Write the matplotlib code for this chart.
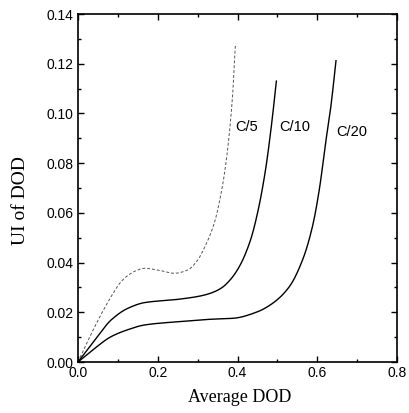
import matplotlib
matplotlib.use("Agg")
import matplotlib.pyplot as plt
from matplotlib.ticker import MultipleLocator
import numpy as np

# C/5 discharge rate
x_c5 = [0.0, 0.042, 0.083, 0.108, 0.125, 0.145, 0.167, 0.20, 0.242, 0.275, 0.30, 0.32, 0.342, 0.359, 0.372, 0.388, 0.3925, 0.395]
y_c5 = [0.0, 0.0142, 0.0263, 0.0323, 0.0348, 0.0367, 0.0377, 0.0370, 0.0357, 0.0370, 0.0410, 0.0470, 0.0560, 0.0680, 0.0813, 0.108, 0.1215, 0.128]

# C/10 discharge rate
x_c10 = [0.0, 0.042, 0.083, 0.125, 0.167, 0.25, 0.305, 0.333, 0.36, 0.383, 0.405, 0.4325, 0.451, 0.47, 0.485, 0.4975]
y_c10 = [0.0, 0.0088, 0.0169, 0.0216, 0.0239, 0.0252, 0.0265, 0.0277, 0.0298, 0.0333, 0.0385, 0.0490, 0.0605, 0.0770, 0.0950, 0.1130]

# C/20 discharge rate
x_c20 = [0.0, 0.042, 0.083, 0.125, 0.167, 0.25, 0.333, 0.39, 0.45, 0.488, 0.53, 0.563, 0.588, 0.605, 0.622, 0.634, 0.647]
y_c20 = [0.0, 0.0055, 0.0102, 0.0130, 0.0149, 0.0162, 0.0172, 0.0176, 0.0202, 0.0236, 0.0303, 0.0410, 0.0545, 0.0692, 0.0893, 0.1026, 0.1212]

labels = ["C/5", "C/10", "C/20"]
label_x = [0.4225, 0.5425, 0.6875]
label_y = [0.0945, 0.0945, 0.0925]

x_ticks = [0.0, 0.2, 0.4, 0.6, 0.8]
x_ticklabels = ["0.0", "0.2", "0.4", "0.6", "0.8"]
y_ticks = [0.00, 0.02, 0.04, 0.06, 0.08, 0.10, 0.12, 0.14]
y_ticklabels = ["0.00", "0.02", "0.04", "0.06", "0.08", "0.10", "0.12", "0.14"]


def pchip(x, y, n=400):
    x = np.asarray(x, float)
    y = np.asarray(y, float)
    h = np.diff(x)
    d = np.diff(y) / h
    m = np.zeros_like(y)
    for k in range(1, len(x) - 1):
        if d[k - 1] * d[k] <= 0:
            m[k] = 0.0
        else:
            w1 = 2 * h[k] + h[k - 1]
            w2 = h[k] + 2 * h[k - 1]
            m[k] = (w1 + w2) / (w1 / d[k - 1] + w2 / d[k])
    m[0] = d[0]
    m[-1] = d[-1]
    xs = np.linspace(x[0], x[-1], n)
    idx = np.clip(np.searchsorted(x, xs) - 1, 0, len(x) - 2)
    t = (xs - x[idx]) / h[idx]
    h00 = 2 * t**3 - 3 * t**2 + 1
    h10 = t**3 - 2 * t**2 + t
    h01 = -2 * t**3 + 3 * t**2
    h11 = t**3 - t**2
    ys = h00 * y[idx] + h10 * h[idx] * m[idx] + h01 * y[idx + 1] + h11 * h[idx] * m[idx + 1]
    return xs, ys


fig = plt.figure(figsize=(4.09, 4.13), dpi=100)
ax = fig.add_axes([78/409, 1 - 362/413, (397-78)/409, (362-14)/413])

ax.plot(*pchip(x_c5, y_c5), color="#555555", lw=0.7, linestyle=(0, (3, 2)))
ax.plot(*pchip(x_c10, y_c10), color="black", lw=1.0)
ax.plot(*pchip(x_c20, y_c20), color="black", lw=1.0)

for t, lx, ly in zip(labels, label_x, label_y):
    ax.text(lx, ly, t, ha="center", va="center", fontsize=10.5, family="Liberation Sans")

ax.set_xlim(0, 0.8)
ax.set_ylim(0, 0.14)
ax.set_xticks(x_ticks)
ax.set_xticklabels(x_ticklabels, family="Liberation Sans", fontsize=10)
ax.set_yticks(y_ticks)
ax.set_yticklabels(y_ticklabels, family="Liberation Sans", fontsize=10)
ax.xaxis.set_minor_locator(MultipleLocator(0.1))
ax.yaxis.set_minor_locator(MultipleLocator(0.01))
ax.tick_params(which="both", direction="in", top=True, right=True, width=1.0)
ax.tick_params(which="major", length=4, pad=3)
ax.tick_params(which="minor", length=2)
for s in ax.spines.values():
    s.set_linewidth(1.2)

fig.text(240/409, 1 - 398/413, "Average DOD", family="Liberation Serif", fontsize=13,
         ha="center", va="center")
fig.text(21/409, 1 - 201/413, "UI of DOD", family="Liberation Serif", fontsize=14,
         ha="center", va="center", rotation=90)

fig.savefig("out.png", dpi=100)
